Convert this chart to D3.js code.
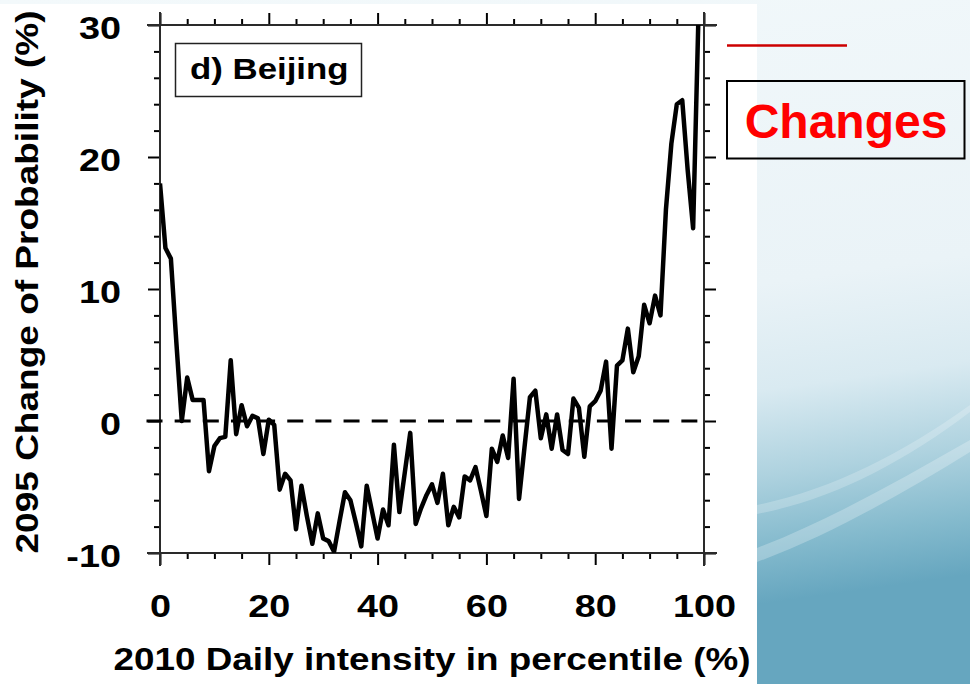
<!DOCTYPE html>
<html><head><meta charset="utf-8">
<script src="https://cdn.jsdelivr.net/npm/d3@7/dist/d3.min.js"></script>
<style>html,body{margin:0;padding:0;background:#fff;overflow:hidden;} svg{display:block;}</style>
</head><body>
<script>
// ---------------- data ----------------
const percentile = [0,1,2,3,4,5,6,7,8,9,10,11,12,13,14,15,16,17,18,19,20,
  21,22,23,24,25,26,27,28,29,30,31,32,33,34,35,36,37,38,39,40,
  41,42,43,44,45,46,47,48,49,50,51,52,53,54,55,56,57,58,59,60,
  61,62,63,64,65,66,67,68,69,70,71,72,73,74,75,76,77,78,79,80,
  81,82,83,84,85,86,87,88,89,90,91,92,93,94,95,96,97,98,99,100];
const changeProb = [18.0,13.1,12.3,6.0,0.0,3.3,1.6,1.6,1.6,-3.8,-1.9,
  -1.3,-1.2,4.6,-1.0,1.2,-0.4,0.4,0.2,-2.5,0.1,
  -0.3,-5.2,-4.0,-4.5,-8.2,-4.9,-7.2,-9.3,-7.0,-8.9,
  -9.1,-9.9,-7.6,-5.4,-6.0,-7.7,-9.5,-4.9,-6.9,-8.9,
  -6.7,-7.9,-1.8,-6.9,-3.9,-0.9,-7.8,-6.6,-5.6,-4.8,
  -6.2,-4.0,-7.9,-6.5,-7.3,-4.2,-4.5,-3.5,-5.3,-7.2,
  -2.1,-3.1,-1.1,-2.8,3.2,-5.9,-2.0,1.8,2.3,-1.3,
  0.5,-2.1,0.5,-2.2,-2.5,1.7,1.0,-2.7,1.1,1.5,
  2.3,4.5,-2.1,4.2,4.6,7.0,3.7,4.9,8.8,7.4,
  9.5,8.0,16.0,21.0,24.0,24.3,19.0,14.6,31.0,38.0];
const xTickValues = [0,20,40,60,80,100];
const xMinorTicks = [5,10,15,25,30,35,45,50,55,65,70,75,85,90,95];
const yTickValues = [-10,0,10,20,30];
const yMinorTicks = [-8,-6,-4,-2,2,4,6,8,12,14,16,18,22,24,26,28];
const panelLabel = "d) Beijing";
const xTitle = "2010 Daily intensity in percentile (%)";
const yTitle = "2095 Change of Probability (%)";
const sideLabel = "Changes";

// ---------------- layout ----------------
const W = 970, H = 684;
const FONT = "'Liberation Sans', Arial, Helvetica, sans-serif";
const svg = d3.select("body").append("svg").attr("width", W).attr("height", H);
const defs = svg.append("defs");

const grad = defs.append("linearGradient").attr("id","bg").attr("x1",0).attr("y1",0).attr("x2",0.2).attr("y2",1);
[[0,"#f3f9fb"],[0.55,"#eaf3f7"],[0.7,"#d9eaf1"],[0.82,"#aed2df"],[0.92,"#84bacd"],[1,"#66a6bf"]]
  .forEach(([o,c]) => grad.append("stop").attr("offset",o).attr("stop-color",c));

svg.append("rect").attr("width",W).attr("height",H).attr("fill","url(#bg)");
// swooshes
svg.append("path").attr("d","M757,548 C830,520 900,480 970,440 L970,452 C900,495 830,535 757,562 Z")
  .attr("fill","#ffffff").attr("opacity",0.25);
svg.append("path").attr("d","M757,505 C830,490 900,455 970,405 L970,412 C900,465 830,500 757,514 Z")
  .attr("fill","#ffffff").attr("opacity",0.22);
// white chart panel
svg.append("rect").attr("x",0).attr("y",4).attr("width",757).attr("height",H-4).attr("fill","#ffffff");

const x = d3.scaleLinear().domain([0,100]).range([160,704]);
const y = d3.scaleLinear().domain([-10,30]).range([553,25]);

function stretch(sel, k){
  sel.each(function(){
    const w = this.getComputedTextLength();
    d3.select(this).attr("textLength", w*k).attr("lengthAdjust","spacingAndGlyphs");
  });
}
function styleAxis(g){
  g.select(".domain").remove();
  g.selectAll(".tick line").attr("stroke","#000").attr("stroke-width",2);
  g.attr("font-family",FONT).attr("font-size",31).attr("font-weight","bold");
  g.selectAll("text").attr("fill","#000");
}

// left axis
const gL = svg.append("g").attr("transform",`translate(${x(0)},0)`)
  .call(d3.axisLeft(y).tickValues(yTickValues).tickSize(12).tickPadding(27).tickFormat(d=>String(d)));
styleAxis(gL); stretch(gL.selectAll("text"), 1.22);
gL.selectAll("text").attr("dy","0.42em");
const gLm = svg.append("g").attr("transform",`translate(${x(0)},0)`)
  .call(d3.axisLeft(y).tickValues(yMinorTicks).tickSize(6).tickFormat(""));
styleAxis(gLm);
// right axis
const gR = svg.append("g").attr("transform",`translate(${x(100)},0)`)
  .call(d3.axisRight(y).tickValues(yTickValues).tickSize(12).tickFormat(""));
styleAxis(gR);
const gRm = svg.append("g").attr("transform",`translate(${x(100)},0)`)
  .call(d3.axisRight(y).tickValues(yMinorTicks).tickSize(6).tickFormat(""));
styleAxis(gRm);
// bottom axis
const gB = svg.append("g").attr("transform",`translate(0,${y(-10)})`)
  .call(d3.axisBottom(x).tickValues(xTickValues).tickSize(12).tickPadding(30).tickFormat(d=>String(d)));
styleAxis(gB); stretch(gB.selectAll("text"), 1.22);
const gBm = svg.append("g").attr("transform",`translate(0,${y(-10)})`)
  .call(d3.axisBottom(x).tickValues(xMinorTicks).tickSize(6).tickFormat(""));
styleAxis(gBm);
// top axis
const gT = svg.append("g").attr("transform",`translate(0,${y(30)})`)
  .call(d3.axisTop(x).tickValues(xTickValues).tickSize(12).tickFormat(""));
styleAxis(gT);
const gTm = svg.append("g").attr("transform",`translate(0,${y(30)})`)
  .call(d3.axisTop(x).tickValues(xMinorTicks).tickSize(6).tickFormat(""));
styleAxis(gTm);

// frame lines (extend past corners)
const ext = 13;
const frame = svg.append("g").attr("stroke","#2a2a2a").attr("stroke-width",2);
frame.append("line").attr("x1",x(0)).attr("x2",x(0)).attr("y1",y(30)-ext).attr("y2",y(-10)+ext);
frame.append("line").attr("x1",x(100)).attr("x2",x(100)).attr("y1",y(30)-ext).attr("y2",y(-10)+ext);
frame.append("line").attr("x1",x(0)-ext).attr("x2",x(100)+ext).attr("y1",y(30)).attr("y2",y(30));
frame.append("line").attr("x1",x(0)-ext).attr("x2",x(100)+ext).attr("y1",y(-10)).attr("y2",y(-10));

// zero dashed line
svg.append("line").attr("x1",x(0)-13.5).attr("x2",x(100)).attr("y1",y(0)).attr("y2",y(0))
  .attr("stroke","#000").attr("stroke-width",3).attr("stroke-dasharray","16 12.15");

// data line
defs.append("clipPath").attr("id","plotclip").append("rect")
  .attr("x",x(0)).attr("y",y(30)).attr("width",x(100)-x(0)).attr("height",y(-10)-y(30));
const line = d3.line().x((d,i)=>x(percentile[i])).y(d=>y(d));
svg.append("path").datum(changeProb).attr("d",line).attr("clip-path","url(#plotclip)")
  .attr("fill","none").attr("stroke","#000").attr("stroke-width",4.5)
  .attr("stroke-linejoin","round").attr("stroke-linecap","butt");

// panel label
svg.append("rect").attr("x",175.5).attr("y",43.5).attr("width",186).attr("height",53)
  .attr("fill","#fff").attr("stroke","#222").attr("stroke-width",1.5);
const pl = svg.append("text").attr("x",190).attr("y",79).text(panelLabel)
  .attr("font-family",FONT).attr("font-size",29).attr("font-weight","bold").attr("fill","#000");
stretch(pl, 1.2);

// axis titles
svg.append("text").attr("x",(x(0)+x(100))/2).attr("y",670).attr("text-anchor","middle")
  .attr("font-family",FONT).attr("font-size",31).attr("font-weight","bold").attr("fill","#000")
  .attr("textLength",637).attr("lengthAdjust","spacingAndGlyphs").text(xTitle);
svg.append("text").attr("transform","translate(38,282) rotate(-90)").attr("text-anchor","middle")
  .attr("font-family",FONT).attr("font-size",31).attr("font-weight","bold").attr("fill","#000")
  .attr("textLength",543).attr("lengthAdjust","spacingAndGlyphs").text(yTitle);

// side annotation
svg.append("line").attr("x1",727).attr("x2",847).attr("y1",45.5).attr("y2",45.5)
  .attr("stroke","#cc0000").attr("stroke-width",2.5);
svg.append("rect").attr("x",727).attr("y",81).attr("width",237.5).attr("height",77.5)
  .attr("fill","none").attr("stroke","#000").attr("stroke-width",2);
svg.append("text").attr("x",846).attr("y",138).attr("text-anchor","middle")
  .attr("font-family",FONT).attr("font-size",48).attr("font-weight","bold").attr("fill","#ff0000")
  .text(sideLabel);
</script>
</body></html>
